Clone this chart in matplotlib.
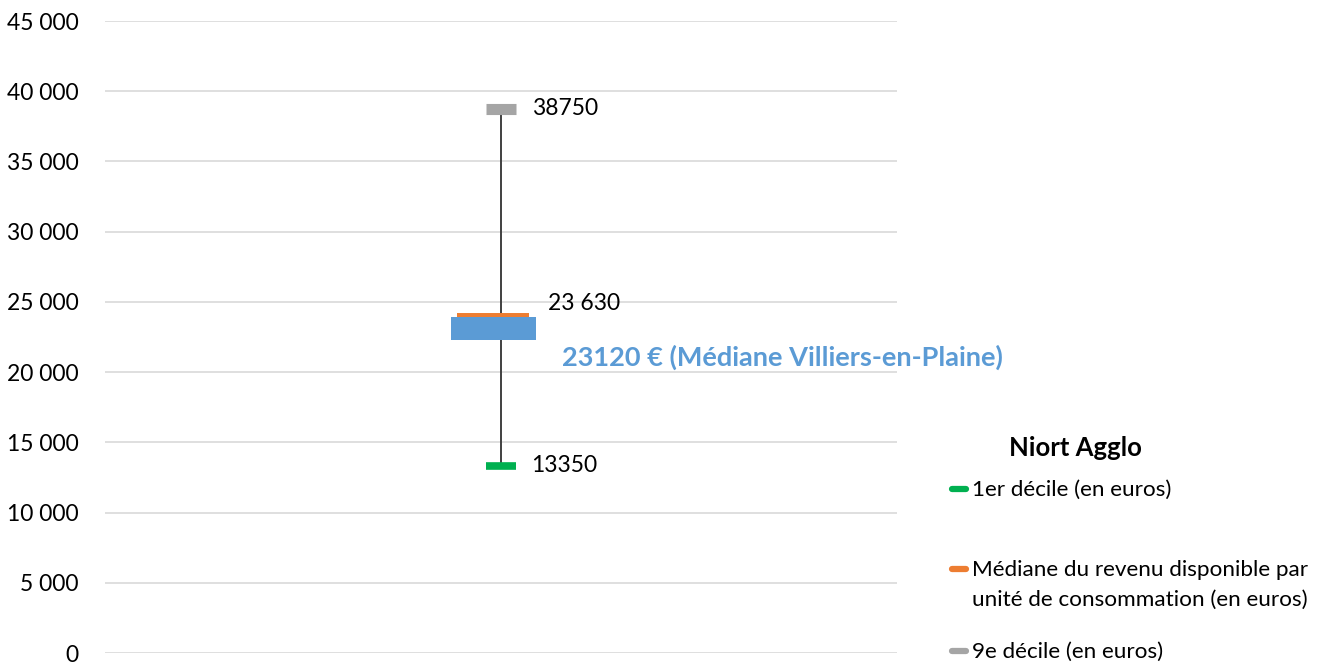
import matplotlib
matplotlib.use("Agg")
import matplotlib.pyplot as plt
from matplotlib.lines import Line2D
from matplotlib.patches import FancyBboxPatch

plt.rcParams['font.family'] = ['Lato', 'DejaVu Sans']

# Niort Agglo - revenu disponible par UC (euros)
categories = [""]
decile1 = [13350]
mediane = [23630]
decile9 = [38750]
mediane_commune = [23120]
commune_label = "23120 € (Médiane Villiers-en-Plaine)"

legend_title = "Niort Agglo"
legend_labels = ["1er décile (en euros)",
                 "Médiane du revenu disponible par\nunité de consommation (en euros)",
                 "9e décile (en euros)"]
yticks = list(range(0, 45001, 5000))

GREEN = "#00B050"
ORANGE = "#ED7D31"
GRAY = "#A5A5A5"
BLUE = "#5B9BD5"

fig = plt.figure(figsize=(13.24, 6.64), dpi=100)
ax = fig.add_axes([105 / 1324, 1 - 653 / 664, 792 / 1324, 632 / 664])

x = list(range(len(categories)))
shift = -0.0095  # median marks sit slightly left of the whisker in the original

# whisker line between deciles
ax.vlines(x, decile1, decile9, color="#404040", lw=1.4, zorder=2)

ax.plot(x, decile9, ls="none", marker="_", ms=21.6, mew=8, color=GRAY, zorder=3)
ax.plot(x, decile1, ls="none", marker="_", ms=21.6, mew=5.5, color=GREEN, zorder=3)
ax.plot([xi + shift for xi in x], mediane, ls="none", marker="_", ms=52.5, mew=11.5,
        color=ORANGE, zorder=3)

# commune median box
box_h = 1640
bars = ax.bar([xi + shift for xi in x], [box_h] * len(x),
              bottom=[m - box_h / 2 for m in mediane_commune],
              width=0.107, color=BLUE, zorder=4)

for xi, v in zip(x, decile9):
    ax.annotate(str(v), (xi, v), xytext=(22, 0), textcoords="offset points",
                va="center", ha="left", fontsize=16.5)
for xi, v in zip(x, decile1):
    ax.annotate(str(v), (xi, v), xytext=(22, 0), textcoords="offset points",
                va="center", ha="left", fontsize=16.5)
for xi, v in zip(x, mediane):
    ax.annotate(f"{v:,}".replace(",", " "), (xi, v), xytext=(34, 13),
                textcoords="offset points", va="center", ha="left", fontsize=16.5)
for xi, v in zip(x, mediane_commune):
    ax.annotate(commune_label, (xi, v), xytext=(44, -21), textcoords="offset points",
                va="center", ha="left", fontsize=19.5, fontweight="bold", color=BLUE)

ax.set_xlim(-0.5, 0.5)
ax.set_ylim(0, 45000)
ax.set_yticks(yticks)
ax.set_yticklabels([f"{t:,}".replace(",", " ") for t in yticks], fontsize=16.5)
ax.set_xticks([])
ax.yaxis.grid(True, color="#D9D9D9", lw=1.2)
ax.set_axisbelow(True)
ax.tick_params(axis="y", length=0, pad=19)
for s in ax.spines.values():
    s.set_visible(False)

# legend drawn by hand to match the spacing
W, H = 1324, 664
fig.text(1075 / W, 1 - 448 / H, legend_title, ha="center", va="center",
         fontsize=18.5, fontweight="bold")
leg_colors = [GREEN, ORANGE, GRAY]
leg_y = [489, 569, 651]
for c, lab, yy in zip(leg_colors, legend_labels, leg_y):
    fig.add_artist(Line2D([952 / W, 966 / W], [1 - yy / H] * 2, color=c, lw=4.5,
                          solid_capstyle="round", transform=fig.transFigure))
    fig.text(972 / W, 1 - (yy - 9) / H, lab, ha="left", va="top",
             fontsize=16.2, linespacing=1.62)

fig.savefig("out.png", dpi=100)
